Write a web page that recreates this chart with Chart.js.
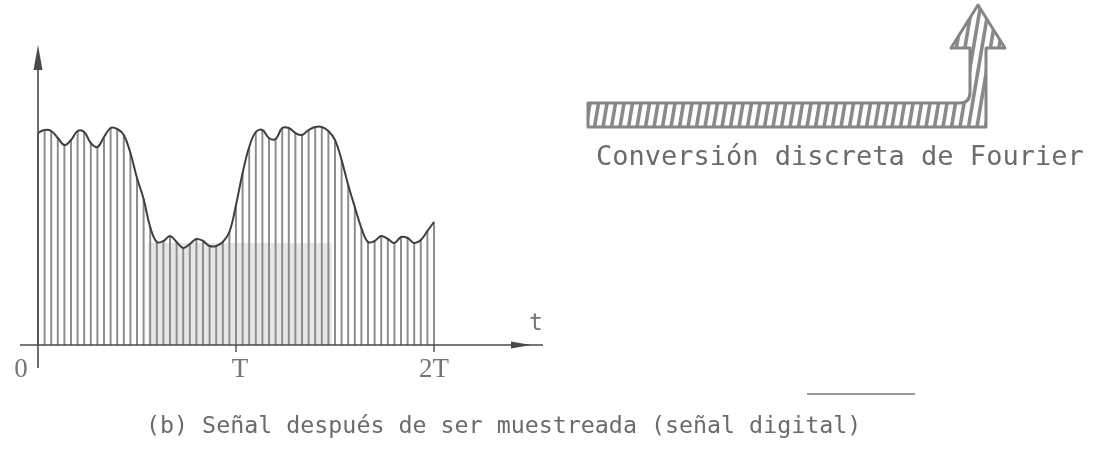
<!DOCTYPE html>
<html>
<head>
<meta charset="utf-8">
<script src="https://cdn.jsdelivr.net/npm/chart.js@4.4.1/dist/chart.umd.min.js"></script>
<style>
  html, body { margin: 0; padding: 0; background: #ffffff; overflow: hidden; }
  canvas { display: block; }
</style>
</head>
<body>
<canvas id="c" width="1099" height="450"></canvas>
<script>
// Sample index along t (30 samples per period T)
const sampleIndex = [
  0, 1, 2, 3, 4, 5, 6, 7, 8, 9, 10, 11, 12, 13, 14, 15, 16, 17, 18, 19,
  20, 21, 22, 23, 24, 25, 26, 27, 28, 29, 30, 31, 32, 33, 34, 35, 36, 37, 38, 39,
  40, 41, 42, 43, 44, 45, 46, 47, 48, 49, 50, 51, 52, 53, 54, 55, 56, 57, 58, 59, 60
];

// Sampled signal amplitude at each sample
const amplitude = [
  212, 215, 214, 207, 200, 205, 214, 213, 202, 198, 208, 217, 216, 210, 192, 167, 146, 118, 103, 104,
  109, 103, 97, 101, 106, 104, 99, 99, 103, 113, 140, 172, 198, 213, 215, 207, 206, 217, 217, 212,
  210, 215, 218, 218, 214, 205, 185, 160, 138, 117, 103, 104, 109, 106, 102, 108, 107, 102, 105, 114, 123
];

// Time axis ticks
const tickPositions = [0, 30, 60];
const tickLabels = ['0', 'T', '2T'];

// Shaded band under the low part of the signal (sample units / amplitude units)
const bandRange = [16.7, 44.5];
const bandTop = 102;

const caption = '(b) Señal después de ser muestreada (señal digital)';
const blockLabel = 'Conversión discreta de Fourier';

const GRAY_TEXT = '#6b6b6b';
const MONO = '"DejaVu Sans Mono", "Liberation Mono", monospace';
const TYPE = '"Liberation Serif", "DejaVu Serif", serif';

const bandPlugin = {
  id: 'band',
  beforeDatasetsDraw(chart) {
    const { ctx, scales: { x, y } } = chart;
    const x0 = x.getPixelForValue(bandRange[0]);
    const x1 = x.getPixelForValue(bandRange[1]);
    const y0 = y.getPixelForValue(bandTop);
    const y1 = y.getPixelForValue(0);
    ctx.save();
    ctx.fillStyle = 'rgba(200,200,200,0.45)';
    ctx.fillRect(x0, y0, x1 - x0, y1 - y0);
    ctx.restore();
  }
};

const decorPlugin = {
  id: 'decor',
  afterDatasetsDraw(chart) {
    const { ctx, scales: { x, y } } = chart;
    const x0 = x.getPixelForValue(0);
    const yBase = y.getPixelForValue(0);
    const yTop = y.getPixelForValue(300);
    ctx.save();
    ctx.strokeStyle = '#4a4a4a';
    ctx.fillStyle = '#4a4a4a';
    ctx.lineWidth = 1.6;

    // vertical axis with arrow head
    ctx.beginPath();
    ctx.moveTo(x0, yBase + 23);
    ctx.lineTo(x0, yTop + 20);
    ctx.stroke();
    ctx.beginPath();
    ctx.moveTo(x0, yTop);
    ctx.lineTo(x0 - 4.5, yTop + 25);
    ctx.lineTo(x0 + 4.5, yTop + 25);
    ctx.closePath();
    ctx.fill();

    // horizontal axis with arrow head
    const xEnd = x.getPixelForValue(60) + 109;
    ctx.beginPath();
    ctx.moveTo(x0 - 18, yBase);
    ctx.lineTo(xEnd, yBase);
    ctx.stroke();
    ctx.beginPath();
    ctx.moveTo(xEnd - 12, yBase);
    ctx.lineTo(xEnd - 32, yBase - 3.5);
    ctx.lineTo(xEnd - 32, yBase + 3.5);
    ctx.closePath();
    ctx.fill();

    // ticks
    ctx.lineWidth = 1.4;
    tickPositions.slice(1).forEach(v => {
      const px = x.getPixelForValue(v);
      ctx.beginPath();
      ctx.moveTo(px, yBase);
      ctx.lineTo(px, yBase + 7);
      ctx.stroke();
    });

    // tick labels
    ctx.fillStyle = '#747474';
    ctx.font = '27px ' + TYPE;
    ctx.textAlign = 'center';
    ctx.textBaseline = 'middle';
    tickPositions.forEach((v, i) => {
      let px = x.getPixelForValue(v);
      if (i === 0) px -= 17;
      if (i === 1) px += 4;
      ctx.fillText(tickLabels[i], px, yBase + 25);
    });
    ctx.font = '23px ' + MONO;
    ctx.fillText('t', xEnd - 7, yBase - 21);

    // Fourier conversion block: hatched bar turning into an upward arrow
    const shape = new Path2D();
    shape.moveTo(588, 103);
    shape.lineTo(960, 103);
    shape.quadraticCurveTo(970, 103, 970, 92);
    shape.lineTo(970, 48);
    shape.lineTo(951, 48);
    shape.lineTo(978, 5);
    shape.lineTo(1005, 48);
    shape.lineTo(986, 48);
    shape.lineTo(986, 127);
    shape.lineTo(588, 127);
    shape.closePath();
    ctx.fillStyle = '#ffffff';
    ctx.fill(shape);
    ctx.save();
    ctx.clip(shape);
    ctx.strokeStyle = '#8a8a8a';
    ctx.lineWidth = 3.6;
    for (let k = 560; k < 1040; k += 8.5) {
      ctx.beginPath();
      ctx.moveTo(k, 130);
      ctx.lineTo(k + 22, 0);
      ctx.stroke();
    }
    ctx.restore();
    ctx.strokeStyle = '#858585';
    ctx.lineWidth = 3;
    ctx.lineJoin = 'round';
    ctx.stroke(shape);

    ctx.fillStyle = GRAY_TEXT;
    ctx.font = '27px ' + MONO;
    ctx.textAlign = 'left';
    ctx.textBaseline = 'middle';
    ctx.fillText(blockLabel, 596, 158);

    // short rule above the caption
    ctx.strokeStyle = '#9a9a9a';
    ctx.lineWidth = 2;
    ctx.beginPath();
    ctx.moveTo(807, 394);
    ctx.lineTo(915, 394);
    ctx.stroke();

    // caption
    ctx.font = '23.3px ' + MONO;
    ctx.textAlign = 'left';
    ctx.fillText(caption, 146, 427);
    ctx.restore();
  }
};

new Chart(document.getElementById('c'), {
  data: {
    datasets: [
      {
        type: 'line',
        data: sampleIndex.map((s, i) => ({ x: s, y: amplitude[i] })),
        borderColor: '#3f3f3f',
        borderWidth: 2,
        pointRadius: 0,
        tension: 0.4,
        clip: false,
        order: 0
      },
      {
        type: 'bar',
        data: sampleIndex.map((s, i) => ({ x: s, y: amplitude[i] })),
        backgroundColor: '#8c8c8c',
        barThickness: 1.3,
        clip: false,
        order: 1
      }
    ]
  },
  options: {
    responsive: false,
    animation: false,
    devicePixelRatio: 1,
    layout: { padding: { left: 38, right: 665, top: 45, bottom: 105 } },
    plugins: { legend: { display: false }, tooltip: { enabled: false } },
    scales: {
      x: { type: 'linear', min: 0, max: 60, offset: false, display: false },
      y: { type: 'linear', min: 0, max: 300, display: false }
    }
  },
  plugins: [bandPlugin, decorPlugin]
});
</script>
</body>
</html>
